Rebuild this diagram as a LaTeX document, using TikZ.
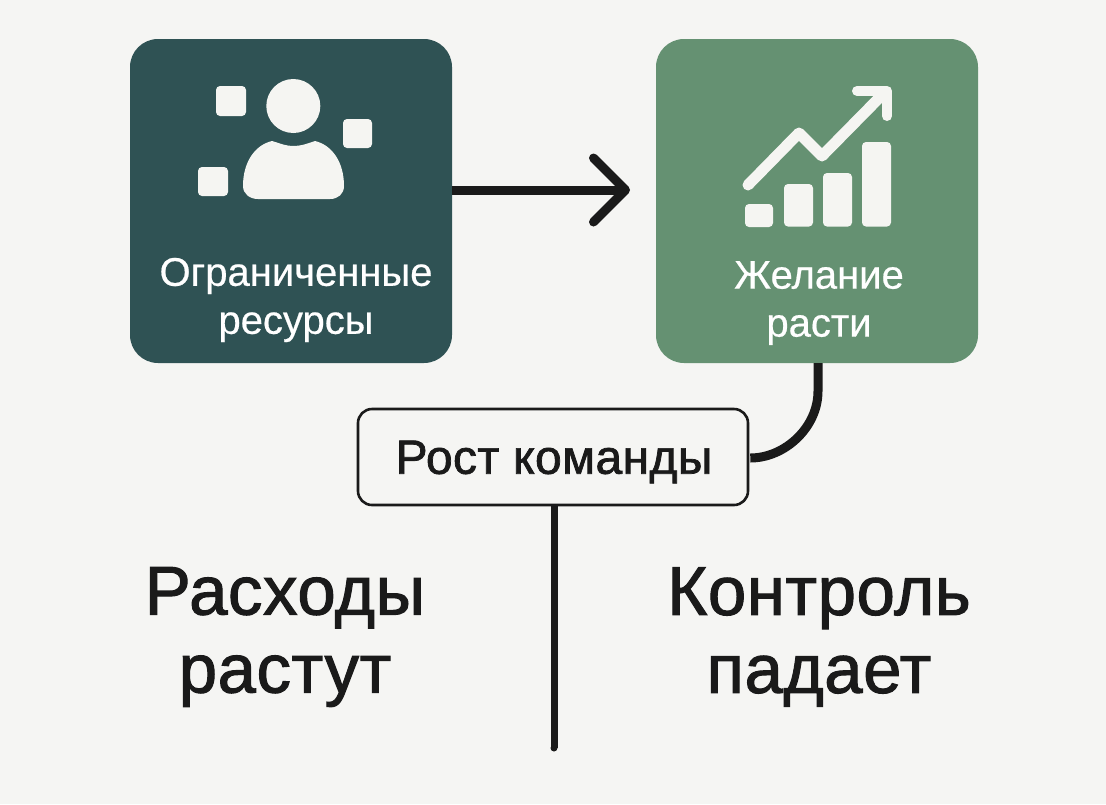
\documentclass[tikz,border=0pt]{standalone}
\usepackage{fontspec}
\setmainfont{Liberation Sans}
\newfontfamily\medfont[FakeBold=1.5,LetterSpace=0.8]{Liberation Sans}
\newfontfamily\cardfont[FakeBold=0.5]{Liberation Sans}
\usetikzlibrary{arrows.meta,calc}
\definecolor{pagebg}{HTML}{F5F5F3}
\definecolor{tealbox}{HTML}{2F5254}
\definecolor{greenbox}{HTML}{659172}
\definecolor{inkc}{HTML}{1A1A1A}
\definecolor{iconc}{HTML}{F5F5F2}
\tikzset{
  card/.style={draw=none,rounded corners=28pt,minimum width=322pt,minimum height=324pt,inner sep=0pt},
  cardlabel/.style={text=white,align=center,inner sep=0pt,font=\cardfont\fontsize{40}{48}\selectfont},
  biglabel/.style={text=inkc,align=center,inner sep=0pt,font=\medfont\fontsize{69}{78}\selectfont},
  flow/.style={draw=inkc,line width=9pt},
  tile/.style={fill=iconc,rounded corners=4pt},
}
\begin{document}
\begin{tikzpicture}[x=1pt,y=-1pt]
\useasboundingbox (0,0) rectangle (1106,804);
\fill[pagebg] (0,0) rectangle (1106,804);

% cards
\node[card,fill=tealbox] (res) at (291,201) {};
\node[card,fill=greenbox] (want) at (817,201) {};
\node[draw=inkc,line width=2.6pt,fill=pagebg,rounded corners=14pt,minimum width=390pt,minimum height=96pt,inner sep=0pt] (team) at (553,457) {};

% connectors
\coordinate (resout) at ($(res.east)+(0,-11)$);
\coordinate (arrowtip) at (630,190);
\coordinate (wantout) at ($(want.south)+(1,0)$);
\coordinate (teamin) at ($(team.east)+(1,1)$);
\coordinate (axisend) at (554,748);
\draw[flow,-{Straight Barb[length=32pt,width=64pt,round]}] (resout) -- (arrowtip);
\draw[flow] (wantout) -- ++(0,28) .. controls ++(0,36) and (785,458) .. (teamin);
\draw[draw=inkc,line width=7pt] (team.south -| axisend) -- (axisend);
\fill[inkc] (axisend) circle (3.5pt);

% person icon
\fill[iconc] (293.3,106) circle (27pt);
\fill[iconc] (258,199) .. controls (250,199) and (243,194) .. (243,186)
  .. controls (243,162) and (255,145) .. (272,141)
  .. controls (282,144) and (286,146) .. (293.5,146)
  .. controls (301,146) and (306,144) .. (315,141)
  .. controls (332,145) and (344,162) .. (344,186)
  .. controls (344,194) and (338,199) .. (330,199) -- cycle;
\fill[tile] (216,86) rectangle (246,116);
\fill[tile] (343,119) rectangle (372,148);
\fill[tile] (198,167) rectangle (228,196);

% growth icon
\fill[tile] (745,204) rectangle (773,227);
\fill[tile] (784,184) rectangle (813,226.5);
\fill[tile] (823,173) rectangle (852,226.5);
\fill[tile] (862,142) rectangle (891,226.5);
\draw[iconc,line width=11pt,line cap=round,line join=round] (748,185) -- (799,133) -- (822,156) -- (885,92);
\draw[iconc,line width=10pt,line cap=round,line join=round] (857,91) -- (887,91) -- (887,116);

% labels
\node[cardlabel] (reslabel) at (296,300) {Ограниченные\\ресурсы};
\node[cardlabel] (wantlabel) at (819,303) {Желание\\расти};
\node[text=inkc,inner sep=0pt,font=\medfont\fontsize{48}{54}\selectfont] (teamlabel) at (554,462) {Рост команды};
\node[biglabel] (costlabel) at (285,637) {Расходы\\растут};
\node[biglabel] (ctrllabel) at (819,637) {Контроль\\падает};
\end{tikzpicture}
\end{document}
